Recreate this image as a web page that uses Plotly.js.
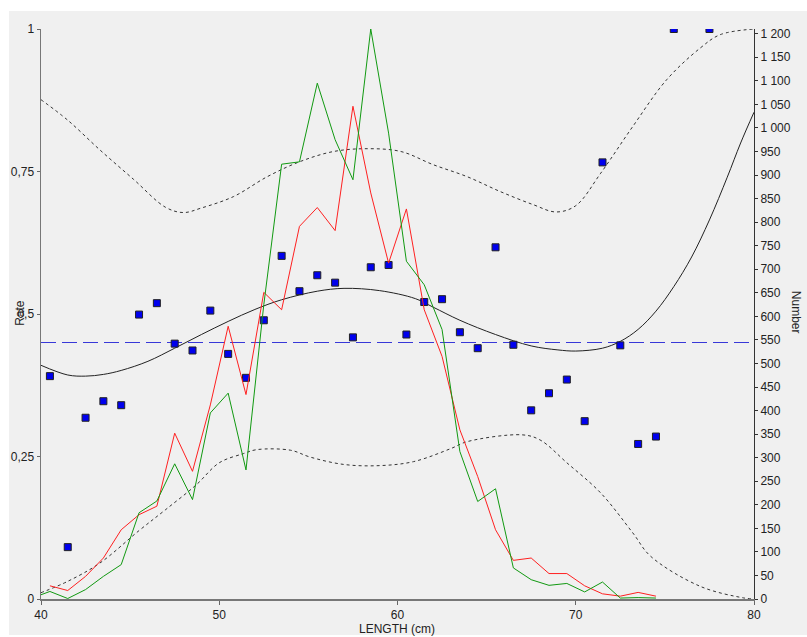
<!DOCTYPE html>
<html>
<head>
<meta charset="utf-8">
<script src="https://cdn.plot.ly/plotly-3.0.1.min.js"></script>
<style>html,body{margin:0;padding:0;background:#fff;}#chart{width:807px;height:637px;}</style>
</head>
<body>
<div id="chart"></div>
<script>
// Observed rate (left axis)
const rateX = [40.5,41.5,42.5,43.5,44.5,45.5,46.5,47.5,48.5,49.5,50.5,51.5,52.5,53.5,54.5,55.5,56.5,57.5,58.5,59.5,60.5,61.5,62.5,63.5,64.5,65.5,66.5,67.5,68.5,69.5,70.5,71.5,72.5,73.5,74.5,75.5,77.5];
const rateY = [0.391,0.091,0.318,0.347,0.340,0.499,0.519,0.448,0.436,0.506,0.430,0.388,0.489,0.602,0.540,0.568,0.555,0.459,0.582,0.586,0.464,0.521,0.526,0.468,0.440,0.617,0.446,0.331,0.361,0.385,0.312,0.766,0.445,0.272,0.285,1.0,1.0];

// Numbers (right axis)
const redX = [40.5,41.5,42.5,43.5,44.5,45.5,46.5,47.5,48.5,49.5,50.5,51.5,52.5,53.5,54.5,55.5,56.5,57.5,58.5,59.5,60.5,61.5,62.5,63.5,64.5,65.5,66.5,67.5,68.5,69.5,70.5,71.5,72.5,73.5,74.5];
const redY = [28,18,48,87,147,179,197,352,271,412,579,434,651,614,791,831,782,1046,862,713,828,614,515,359,260,147,82,87,54,54,28,11,6,14,6];
const greenX = [40,40.5,41.5,42.5,43.5,44.5,45.5,46.5,47.5,48.5,49.5,50.5,51.5,52.5,53.5,54.5,55.5,56.5,57.5,58.5,59.5,60.5,61.5,62.5,63.5,64.5,65.5,66.5,67.5,68.5,69.5,70.5,71.5,72.5,73.5,74.5];
const greenY = [9,16,1,20,48,73,183,208,287,211,395,437,274,625,923,928,1095,975,890,1210,989,717,667,572,313,207,234,66,41,29,33,15,36,2,3,2];

// Fitted curve and bounds (left axis)
const fitX = [40,41.5,42.5,43.5,44.5,46,47.5,49,50.5,52,53.5,55.5,57,59,61,62,63.5,65.5,67.5,69,70,71.5,72.5,73.5,74.5,75.5,76.5,77.5,78.5,79.25,80];
const fitY = [0.410,0.393,0.391,0.394,0.401,0.417,0.440,0.464,0.487,0.508,0.525,0.540,0.545,0.541,0.527,0.512,0.489,0.464,0.444,0.437,0.435,0.440,0.452,0.473,0.505,0.548,0.600,0.665,0.740,0.800,0.854];
const upX = [40,41.5,43.3,45.2,47,48,49,50.8,52.7,54.5,56.4,58.3,60.2,62,63.9,65.75,67.6,68.9,70,71.4,73.2,75.1,77,78.1,80];
const upY = [0.876,0.840,0.788,0.736,0.687,0.678,0.686,0.706,0.741,0.767,0.785,0.790,0.785,0.762,0.741,0.715,0.692,0.679,0.690,0.747,0.829,0.911,0.967,0.990,1.0];
const lowX = [40,41.5,43.3,45.5,47,48.7,50,51.35,52.1,54,55.1,57,59,60.9,63,63.9,67,68,69.5,71.4,73.2,74.2,77,79.4,80];
const lowY = [0.011,0.031,0.063,0.120,0.157,0.200,0.239,0.255,0.262,0.261,0.249,0.236,0.234,0.241,0.264,0.276,0.288,0.279,0.239,0.186,0.116,0.075,0.022,0.002,0.0];

const refX = [40,80];
const refY = [0.45,0.45];

const xTicks = [40,50,60,70,80];
const yTicks = [0,0.25,0.5,0.75,1];

const font = {family:'"Liberation Sans", Arial, sans-serif', size:12, color:'#222'};

const traces = [
  {x:upX, y:upY, mode:'lines', line:{color:'#333', width:1, dash:'3px,3px', shape:'spline'}, hoverinfo:'skip'},
  {x:lowX, y:lowY, mode:'lines', line:{color:'#333', width:1, dash:'3px,3px', shape:'spline'}, hoverinfo:'skip'},
  {x:fitX, y:fitY, mode:'lines', line:{color:'#222', width:1, shape:'spline'}},
  {x:refX, y:refY, mode:'lines', line:{color:'#3838d8', width:1, dash:'15px,6px'}},
  {x:redX, y:redY, yaxis:'y2', mode:'lines', line:{color:'#ff2020', width:1}},
  {x:greenX, y:greenY, yaxis:'y2', mode:'lines', line:{color:'#119911', width:1}},
  {x:rateX, y:rateY, mode:'markers', marker:{symbol:'square', size:7, color:'#0000ee', line:{color:'#222', width:1}}}
];

const layout = {
  width:807, height:637,
  margin:{l:41, r:53, t:29, b:38, pad:0},
  paper_bgcolor:'#ffffff',
  plot_bgcolor:'rgba(0,0,0,0)',
  showlegend:false,
  separators:', ',
  font:font,
  xaxis:{range:[40,80], tickvals:xTicks, ticks:'outside', ticklen:4, tickcolor:'#666',
         showline:true, linecolor:'#777', linewidth:1.5, showgrid:false, zeroline:false, tickfont:font},
  yaxis:{range:[0,1], tickvals:yTicks, ticks:'outside', ticklen:3, tickcolor:'#666',
         showline:true, linecolor:'#777', linewidth:1.5, showgrid:false, zeroline:false, tickfont:font},
  yaxis2:{range:[0,1210], overlaying:'y', side:'right', dtick:50, tick0:0, ticks:'outside', ticklen:3, tickcolor:'#333',
          separatethousands:true, showline:true, linecolor:'#333', linewidth:1, showgrid:false, zeroline:false, tickfont:font},
  shapes:[
    {type:'rect', xref:'paper', yref:'paper', x0:-0.0449, x1:1.08, y0:-0.0632, y1:1.0316,
     fillcolor:'#f0f0f0', line:{width:0}, layer:'below'}
  ],
  annotations:[
    {text:'Rate', xref:'paper', yref:'paper', x:-0.0295, y:0.502, textangle:-90, showarrow:false, font:font, xanchor:'center', yanchor:'middle'},
    {text:'Number', xref:'paper', yref:'paper', x:1.0589, y:0.502, textangle:90, showarrow:false, font:font, xanchor:'center', yanchor:'middle'},
    {text:'LENGTH (cm)', xref:'paper', yref:'paper', x:0.4993, y:-0.0525, showarrow:false, font:font, xanchor:'center', yanchor:'middle'}
  ]
};

Plotly.newPlot('chart', traces, layout, {staticPlot:true, displayModeBar:false});
</script>
</body>
</html>
